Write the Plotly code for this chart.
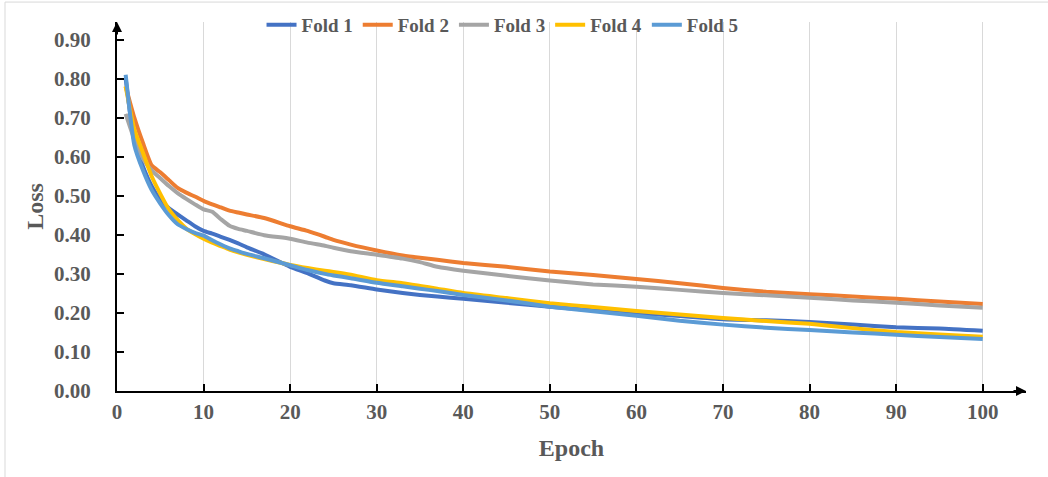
import plotly.graph_objects as go

epochs = [1, 2, 3, 4, 5, 6, 7, 8, 9, 10, 11, 12, 13, 14, 15, 17, 20, 22, 24, 25, 27,
          30, 33, 35, 37, 40, 45, 50, 55, 60, 65, 70, 75, 80, 85, 90, 95, 100]

fold1 = [0.80, 0.64, 0.575, 0.525, 0.49, 0.468, 0.452, 0.437, 0.422, 0.41, 0.403, 0.395,
         0.387, 0.378, 0.368, 0.35, 0.318, 0.302, 0.283, 0.276, 0.271, 0.26, 0.251, 0.246,
         0.242, 0.236, 0.226, 0.216, 0.207, 0.20, 0.192, 0.184, 0.181, 0.177, 0.17, 0.163,
         0.160, 0.154]
fold2 = [0.78, 0.70, 0.635, 0.578, 0.56, 0.54, 0.52, 0.508, 0.498, 0.487, 0.478, 0.47,
         0.462, 0.457, 0.452, 0.443, 0.422, 0.41, 0.395, 0.387, 0.375, 0.36, 0.347, 0.341,
         0.336, 0.328, 0.318, 0.306, 0.297, 0.287, 0.276, 0.264, 0.254, 0.248, 0.242, 0.236,
         0.229, 0.223]
fold3 = [0.71, 0.645, 0.595, 0.565, 0.545, 0.525, 0.507, 0.492, 0.478, 0.465, 0.459, 0.44,
         0.423, 0.415, 0.41, 0.399, 0.39, 0.38, 0.372, 0.367, 0.358, 0.349, 0.339, 0.33,
         0.318, 0.308, 0.295, 0.283, 0.273, 0.267, 0.259, 0.251, 0.245, 0.239, 0.232, 0.226,
         0.219, 0.213]
fold4 = [0.78, 0.67, 0.61, 0.55, 0.505, 0.465, 0.438, 0.416, 0.402, 0.39, 0.38, 0.371,
         0.362, 0.355, 0.349, 0.338, 0.323, 0.315, 0.308, 0.305, 0.298, 0.284, 0.276, 0.269,
         0.262, 0.251, 0.238, 0.225, 0.215, 0.205, 0.196, 0.187, 0.179, 0.172, 0.161, 0.151,
         0.145, 0.139]
fold5 = [0.81, 0.63, 0.565, 0.515, 0.48, 0.45, 0.427, 0.415, 0.405, 0.398, 0.386, 0.375,
         0.365, 0.358, 0.351, 0.34, 0.322, 0.31, 0.30, 0.296, 0.289, 0.277, 0.268, 0.262,
         0.256, 0.246, 0.232, 0.216, 0.204, 0.193, 0.18, 0.17, 0.162, 0.156, 0.15, 0.144,
         0.138, 0.133]

series_names = ["Fold 1", "Fold 2", "Fold 3", "Fold 4", "Fold 5"]
series_values = [fold1, fold2, fold3, fold4, fold5]
colors = ["#4472C4", "#ED7D31", "#A5A5A5", "#FFC000", "#5B9BD5"]

x_ticks = [0, 10, 20, 30, 40, 50, 60, 70, 80, 90, 100]
y_ticks = [0.0, 0.1, 0.2, 0.3, 0.4, 0.5, 0.6, 0.7, 0.8, 0.9]

FONT = "Liberation Serif, Times New Roman, serif"
TXT = "#595959"

fig = go.Figure()
for name, vals, col in zip(series_names, series_values, colors):
    fig.add_trace(go.Scatter(x=epochs, y=vals, mode="lines", name=name,
                             line=dict(color=col, width=4, shape="spline", smoothing=0.5)))

fig.update_layout(
    width=1048, height=477,
    margin=dict(l=117, r=22, t=22, b=86, autoexpand=False),
    paper_bgcolor="white", plot_bgcolor="white",
    font=dict(family=FONT, color=TXT),
    showlegend=True,
    legend=dict(orientation="h", x=0.159, xanchor="left", y=0.992, yanchor="middle",
                bgcolor="rgba(0,0,0,0)", font=dict(family=FONT, size=19, color=TXT, weight="bold"),
                itemwidth=30, tracegroupgap=0),
    xaxis=dict(range=[0, 105], tickvals=x_ticks, ticktext=[str(v) for v in x_ticks],
               automargin=False,
               showgrid=True, gridcolor="#D9D9D9", gridwidth=1, zeroline=False,
               showline=True, linecolor="black", linewidth=2,
               ticks="inside", ticklen=7, tickwidth=2, tickcolor="black",
               tickfont=dict(family=FONT, size=21, color=TXT, weight="bold"),
               ticklabelstandoff=1,
               title=dict(text="Epoch", font=dict(family=FONT, size=24, color=TXT, weight="bold"),
                          standoff=16)),
    yaxis=dict(range=[0, 0.945], tickvals=y_ticks, ticktext=[f"{v:.2f}" for v in y_ticks],
               automargin=False,
               showgrid=False, zeroline=False,
               showline=True, linecolor="black", linewidth=2,
               ticks="inside", ticklen=7, tickwidth=2, tickcolor="black",
               tickfont=dict(family=FONT, size=21, color=TXT, weight="bold"),
               ticklabelstandoff=20,
               title=dict(text="Loss", font=dict(family=FONT, size=24, color=TXT, weight="bold"),
                          standoff=4)),
)

# axis arrowheads
fig.add_annotation(x=105, y=0, xref="x", yref="y", ax=-14, ay=0, axref="pixel", ayref="pixel",
                   text="", showarrow=True, arrowhead=2, arrowsize=1, arrowwidth=2,
                   arrowcolor="black")
fig.add_annotation(x=0, y=0.945, xref="x", yref="y", ax=0, ay=14, axref="pixel", ayref="pixel",
                   text="", showarrow=True, arrowhead=2, arrowsize=1, arrowwidth=2,
                   arrowcolor="black")

# chart-area border (left and top)
fig.add_shape(type="line", xref="paper", yref="paper", x0=-0.1232, x1=1.05, y0=1.054, y1=1.054,
              line=dict(color="#D9D9D9", width=1))
fig.add_shape(type="line", xref="paper", yref="paper", x0=-0.1232, x1=-0.1232, y0=-0.25, y1=1.054,
              line=dict(color="#D9D9D9", width=1))

fig.write_html("out.html", config={"displayModeBar": False},
               post_script="document.body.style.margin='0';")
